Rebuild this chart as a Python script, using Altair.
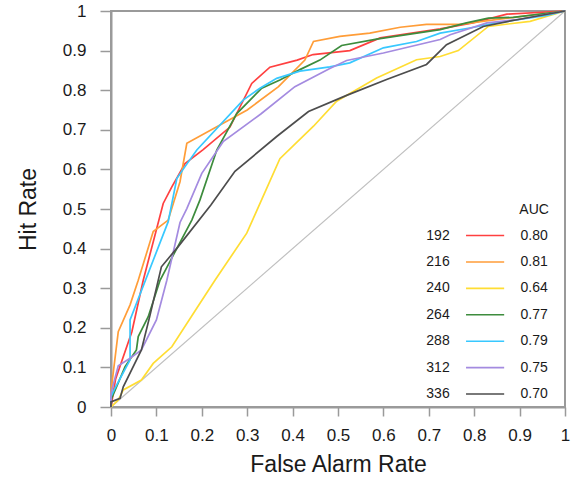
import altair as alt
import pandas as pd

series = ["192", "216", "240", "264", "288", "312", "336"]
auc_text = ["0.80", "0.81", "0.64", "0.77", "0.79", "0.75", "0.70"]
colors = ["#ff4040", "#ff9d38", "#ffdd33", "#3d8c3d", "#38c8ff", "#a48be0", "#4d4d4d"]

far_192 = [0, 0.01, 0.046, 0.071, 0.115, 0.134, 0.163, 0.203, 0.262, 0.31, 0.35, 0.41, 0.445, 0.526, 0.593, 0.725, 0.797, 0.872, 1]
hit_192 = [0, 0.07, 0.19, 0.32, 0.514, 0.556, 0.615, 0.65, 0.707, 0.817, 0.858, 0.876, 0.89, 0.90, 0.932, 0.955, 0.97, 0.992, 1]

far_216 = [0, 0, 0.016, 0.042, 0.06, 0.093, 0.126, 0.152, 0.167, 0.3, 0.369, 0.427, 0.446, 0.504, 0.57, 0.637, 0.695, 0.769, 0.86, 1]
hit_216 = [0, 0.04, 0.19, 0.258, 0.32, 0.443, 0.472, 0.569, 0.666, 0.75, 0.809, 0.876, 0.923, 0.936, 0.944, 0.959, 0.966, 0.966, 0.98, 1]

far_240 = [0, 0.016, 0.027, 0.067, 0.093, 0.134, 0.196, 0.229, 0.299, 0.372, 0.446, 0.497, 0.585, 0.673, 0.725, 0.765, 0.831, 0.923, 1]
hit_240 = [0, 0.018, 0.043, 0.068, 0.11, 0.152, 0.262, 0.32, 0.439, 0.627, 0.709, 0.772, 0.831, 0.877, 0.885, 0.90, 0.961, 0.974, 1]

far_264 = [0, 0, 0.031, 0.056, 0.06, 0.082, 0.108, 0.178, 0.196, 0.233, 0.277, 0.332, 0.372, 0.416, 0.46, 0.508, 0.585, 0.725, 0.783, 0.831, 0.886, 1]
hit_264 = [0, 0.018, 0.102, 0.144, 0.178, 0.228, 0.32, 0.472, 0.523, 0.649, 0.741, 0.805, 0.826, 0.852, 0.876, 0.913, 0.929, 0.953, 0.97, 0.982, 0.984, 1]

far_288 = [0, 0, 0.009, 0.042, 0.042, 0.126, 0.145, 0.163, 0.189, 0.291, 0.328, 0.365, 0.416, 0.482, 0.526, 0.6, 0.673, 0.725, 0.79, 0.85, 0.96, 1]
hit_288 = [0, 0.026, 0.048, 0.119, 0.22, 0.468, 0.577, 0.607, 0.649, 0.775, 0.805, 0.83, 0.848, 0.859, 0.869, 0.907, 0.923, 0.944, 0.957, 0.97, 0.989, 1]

far_312 = [0, 0, 0.016, 0.042, 0.067, 0.1, 0.123, 0.152, 0.167, 0.2, 0.247, 0.33, 0.405, 0.482, 0.519, 0.6, 0.725, 0.747, 0.828, 0.894, 1]
hit_312 = [0, 0.035, 0.104, 0.123, 0.144, 0.22, 0.32, 0.466, 0.501, 0.59, 0.67, 0.74, 0.809, 0.855, 0.875, 0.894, 0.928, 0.94, 0.97, 0.978, 1]

far_336 = [0, 0, 0.02, 0.027, 0.067, 0.086, 0.111, 0.148, 0.22, 0.273, 0.365, 0.435, 0.519, 0.607, 0.695, 0.739, 0.82, 0.894, 1]
hit_336 = [0, 0.013, 0.022, 0.051, 0.144, 0.232, 0.354, 0.405, 0.51, 0.595, 0.683, 0.746, 0.787, 0.827, 0.865, 0.915, 0.961, 0.978, 1]

curves = {
    "192": (far_192, hit_192),
    "216": (far_216, hit_216),
    "240": (far_240, hit_240),
    "264": (far_264, hit_264),
    "288": (far_288, hit_288),
    "312": (far_312, hit_312),
    "336": (far_336, hit_336),
}

rows = []
for s, (xs, ys) in curves.items():
    for k, (xv, yv) in enumerate(zip(xs, ys)):
        rows.append({"series": s, "k": k, "far": xv, "hit": yv})
df = pd.DataFrame(rows)

diag = pd.DataFrame({"far": [0, 1], "hit": [0, 1]})

FONT = "Liberation Sans"
xscale = alt.Scale(domain=[0, 1], nice=False, zero=False)
yscale = alt.Scale(domain=[0, 1], nice=False, zero=False)
ticks = [round(i * 0.1, 1) for i in range(11)]

xaxis = alt.Axis(title="False Alarm Rate", values=ticks, format=".1~f", grid=False,
                 tickSize=9, labelPadding=11, titlePadding=10, labelOverlap=False,
                 labelFlush=False)
yaxis = alt.Axis(title="Hit Rate", values=ticks, format=".1~f", grid=False,
                 tickSize=11, labelPadding=14, titlePadding=22, labelOverlap=False,
                 labelFlush=False)


def X(field):
    return alt.X(field, type="quantitative", scale=xscale, axis=xaxis)


def Y(field):
    return alt.Y(field, type="quantitative", scale=yscale, axis=yaxis)


base_diag = alt.Chart(diag).mark_line(color="#c0c0c0", strokeWidth=1.2).encode(
    x=X("far"), y=Y("hit"),
)

lines = alt.Chart(df).mark_line(strokeWidth=1.7).encode(
    x=X("far"), y=Y("hit"),
    color=alt.Color("series:N", scale=alt.Scale(domain=series, range=colors), legend=None),
    order="k:Q",
)

# custom legend: label | swatch | AUC value
leg = pd.DataFrame({
    "series": series,
    "auc": auc_text,
    "i": list(range(len(series))),
})
leg["ly"] = 0.433 - leg["i"] * 0.0667
leg["lx"] = 0.746
leg["sx1"] = 0.782
leg["sx2"] = 0.866
leg["vx"] = 0.932
hdr = pd.DataFrame({"t": ["AUC"], "x": [0.932], "y": [0.497]})

leg_labels = alt.Chart(leg).mark_text(align="right", baseline="middle", font=FONT,
                                      fontSize=14, color="#1a1a1a").encode(
    x=X("lx"), y=Y("ly"), text="series:N")
leg_sw = alt.Chart(leg).mark_rule(strokeWidth=1.6).encode(
    x=X("sx1"), x2="sx2:Q", y=Y("ly"),
    color=alt.Color("series:N", scale=alt.Scale(domain=series, range=colors), legend=None))
leg_vals = alt.Chart(leg).mark_text(align="center", baseline="middle", font=FONT,
                                    fontSize=14, color="#1a1a1a").encode(
    x=X("vx"), y=Y("ly"), text="auc:N")
leg_hdr = alt.Chart(hdr).mark_text(align="center", baseline="middle", font=FONT,
                                   fontSize=14, color="#1a1a1a").encode(
    x=X("x"), y=Y("y"), text="t:N")

chart = alt.layer(base_diag, lines, leg_sw, leg_labels, leg_vals, leg_hdr).properties(
    width=454, height=396,
    autosize=alt.AutoSizeParams(type="none"),
    padding={"left": 111, "top": 11, "right": 18, "bottom": 77},
    background="white",
).configure_view(
    stroke="#9a9a9a", strokeWidth=2,
).configure_axis(
    domainColor="#9a9a9a", domainWidth=2, tickColor="#9a9a9a", tickWidth=1.5,
    labelFont=FONT, labelFontSize=17, labelColor="#1a1a1a",
    titleFont=FONT, titleFontSize=23, titleFontWeight="normal", titleColor="#1a1a1a",
)

chart.save("out.html", embed_options={"renderer": "svg", "actions": False})
